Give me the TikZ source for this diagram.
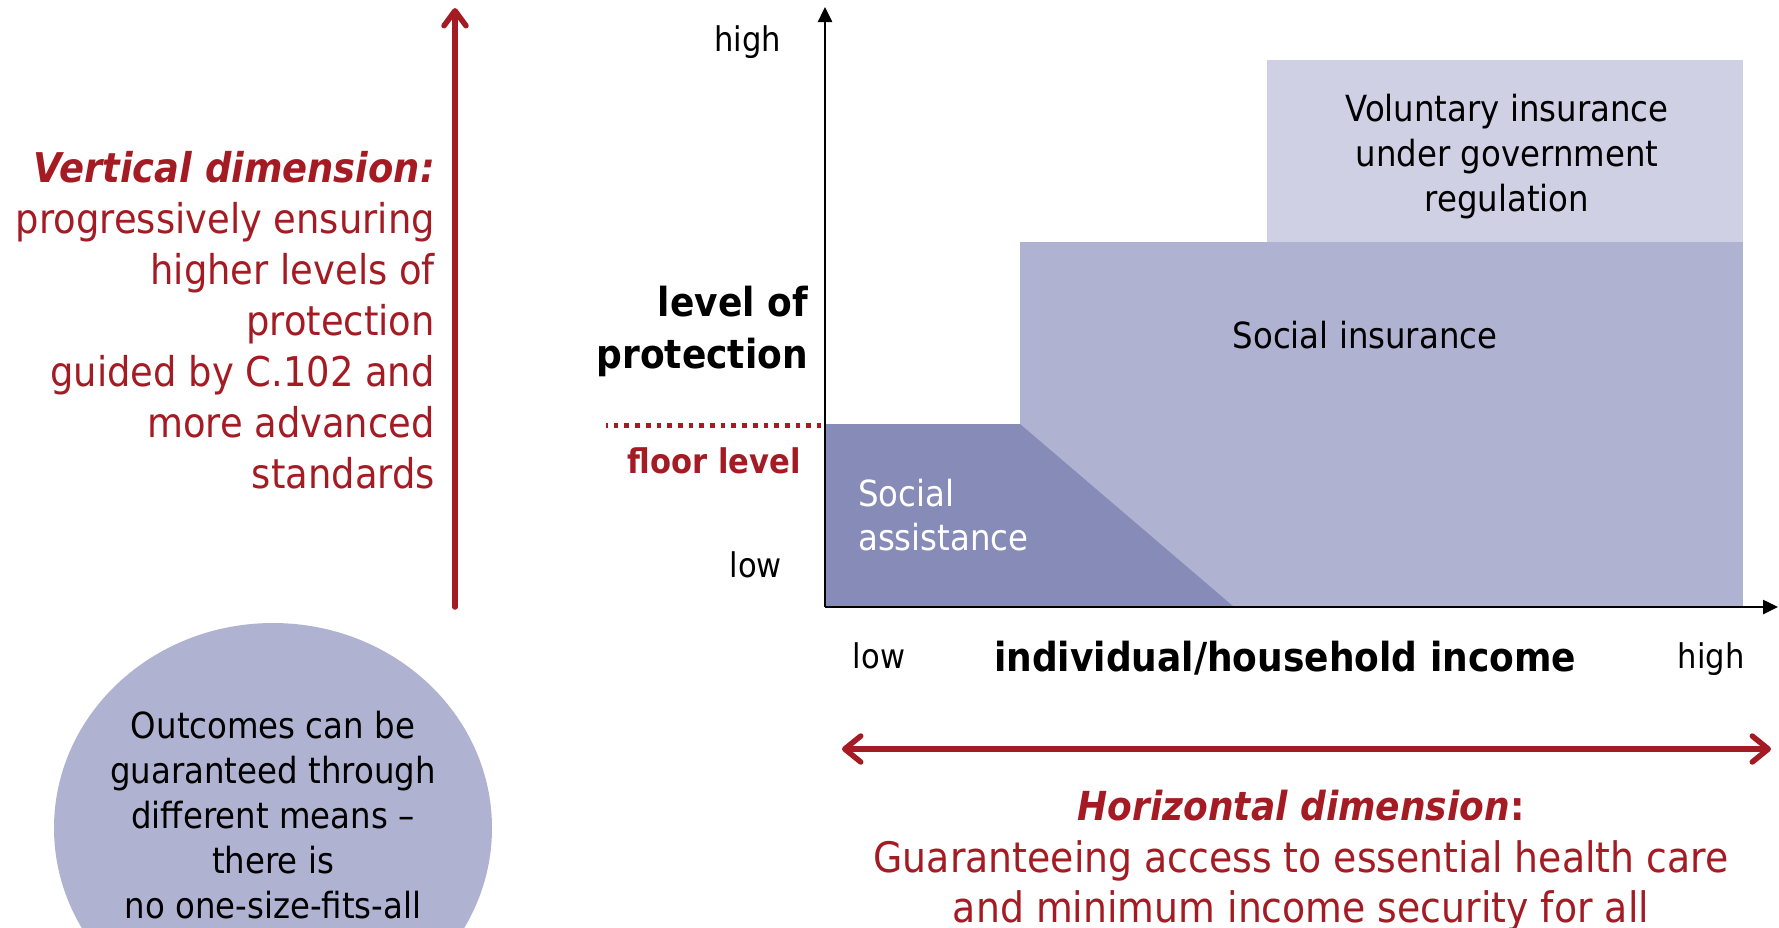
\documentclass[tikz,border=0pt]{standalone}
\usepackage{fontspec}
\setmainfont{DejaVu Sans}[FakeStretch=0.9]
\usepackage{tikz}
\usetikzlibrary{arrows.meta}
\definecolor{ilored}{RGB}{165,27,36}
\definecolor{sacolor}{RGB}{135,139,183}
\definecolor{sicolor}{RGB}{176,178,209}
\definecolor{vicolor}{RGB}{207,208,227}
\newcommand{\fsz}[2]{\fontsize{#1}{#2}\selectfont}

\begin{document}
\begin{tikzpicture}[%
  x=1pt, y=-1pt,
  every node/.style={inner sep=0pt},
  vtip/.tip={Straight Barb[length=15pt,width=22pt,round]},
  htip/.tip={Straight Barb[length=16pt,width=26pt,round]},
  axis/.style={line width=2.5pt, -{Triangle[length=15pt,width=14pt]}},
  dimarrow/.style={ilored, line width=5.5pt, line cap=round},
  floorline/.style={ilored, line width=5pt, dash pattern=on 4.7pt off 6pt, dash phase=3pt},
  lefttxt/.style={ilored, font={\fsz{41}{51}}},
  axlbl/.style={font={\fsz{34}{40}}},
  boldlbl/.style={font={\bfseries\fsz{40}{52}}},
  floorlbl/.style={ilored, font={\bfseries\fsz{34}{40}}},
  boxlbl/.style={font={\fsz{36}{45}}},
  dimhead/.style={ilored, font={\bfseries\fsz{40}{50}}},
  dimtxt/.style={ilored, font={\fsz{42}{50}}},
  circtxt/.style={font={\fsz{36}{45}}}]
  \useasboundingbox (0,0) rectangle (1779,927);
  \clip (0,0) rectangle (1779,927);

  \coordinate (O) at (825,607);
  \coordinate (ytop) at (825,7);
  \coordinate (xend) at (1778,607);
  \coordinate (vbot) at (455,607);
  \coordinate (vtop) at (455,8);
  \coordinate (hleft) at (842,749);
  \coordinate (hright) at (1771,749);
  \coordinate (floorL) at (606,425);
  \coordinate (floorR) at (821,425);

  \fill[vicolor] (1267,60) rectangle (1743,242);
  \fill[sicolor] (1020,242) rectangle (1743,607);
  \fill[sacolor] (825,424) -- (1020,424) -- (1234,607) -- (825,607) -- cycle;
  \fill[sicolor] (273,828) ellipse [x radius=219pt, y radius=205pt];

  \draw[axis] (O) -- (ytop);
  \draw[axis] (O) -- (xend);
  \draw[dimarrow, -vtip] (vbot) -- (vtop);
  \draw[dimarrow, htip-htip] (hleft) -- (hright);
  \draw[floorline] (floorL) -- (floorR);

  \node[lefttxt, anchor=north east, align=right] (vdim) at (435,151)
    {\textbf{\textit{Vertical dimension:}}\\progressively ensuring\\higher levels of\\protection\\guided by C.102 and\\more advanced\\standards};
  \node[axlbl, anchor=base east] (yhigh) at (781,51) {high};
  \node[axlbl, anchor=base east] (ylow) at (782,577) {low};
  \node[boldlbl, anchor=north east, align=right] (ylabel) at (808,286) {level of\\protection};
  \node[floorlbl, anchor=base east] (floor) at (801,473) {floor level};
  \node[boxlbl, anchor=north, align=center] (vol) at (1507,94)
    {Voluntary insurance\\under government\\regulation};
  \node[boxlbl, anchor=base] (si) at (1365,348) {Social insurance};
  \node[boxlbl, text=white, anchor=north west, align=left, font={\fsz{36}{44}}] (sa) at (858,479)
    {Social\\assistance};
  \node[axlbl, anchor=base] (xlow) at (879,668) {low};
  \node[boldlbl, anchor=base] (xlabel) at (1285,671) {individual/household income};
  \node[axlbl, anchor=base] (xhigh) at (1711,668) {high};
  \node[dimhead, anchor=base] (hdim) at (1301,820) {\textit{Horizontal dimension}:};
  \node[dimtxt, anchor=north, align=center] (htxt) at (1301,840)
    {Guaranteeing access to essential health care\\and minimum income security for all};
  \node[circtxt, anchor=north, align=center] (means) at (273,711)
    {Outcomes can be\\guaranteed through\\different means --\\there is\\no one-size-fits-all};
\end{tikzpicture}
\end{document}
